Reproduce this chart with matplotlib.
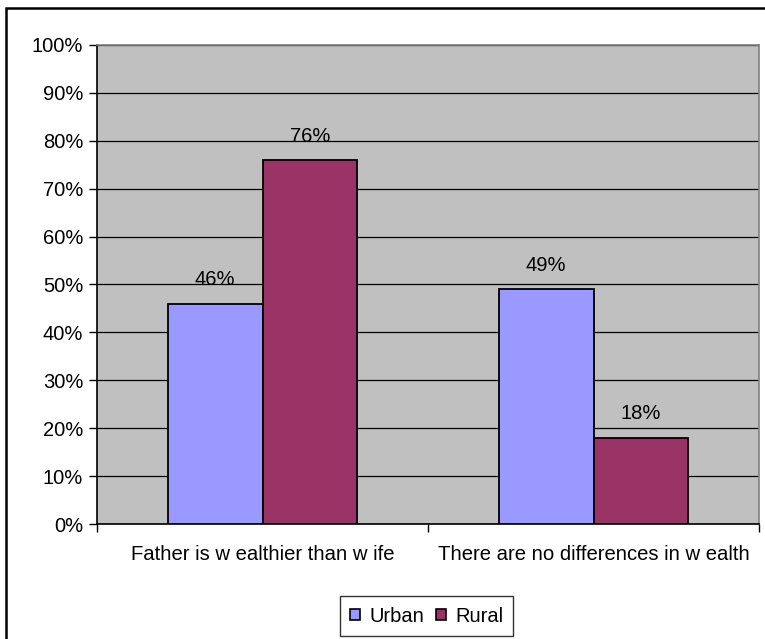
import matplotlib
matplotlib.use("Agg")
import matplotlib.pyplot as plt
from matplotlib.patches import Rectangle, Patch
from matplotlib.ticker import FixedLocator

categories = ["Father is w ealthier than w ife", "There are no differences in w ealth"]
series_names = ["Urban", "Rural"]
urban = [46, 49]
rural = [76, 18]
y_ticks = [0, 10, 20, 30, 40, 50, 60, 70, 80, 90, 100]
y_tick_labels = [f"{v}%" for v in y_ticks]

colors = {"Urban": "#9999FF", "Rural": "#993366"}
font = "Liberation Sans"

fig = plt.figure(figsize=(7.65, 6.39), dpi=100)
fig.patch.set_facecolor("white")

# outer chart frame (runs past the right and bottom edges)
top_px = 8
fig.add_artist(Rectangle((6 / 765, -0.1), 1.2, 0.1 + (639 - top_px) / 639,
                         transform=fig.transFigure, fill=False, edgecolor="black", linewidth=1.8))

ax = fig.add_axes([97 / 765, 115 / 639, 662 / 765, 479 / 639])
ax.set_facecolor("#C0C0C0")

bar_w = 0.287
x = list(range(len(categories)))
xu = [i - bar_w / 2 for i in x]
xr = [i + bar_w / 2 for i in x]
ax.bar(xu, urban, width=bar_w, color=colors["Urban"], edgecolor="black", linewidth=1.3, zorder=3)
ax.bar(xr, rural, width=bar_w, color=colors["Rural"], edgecolor="black", linewidth=1.3, zorder=3)

for xi, v in zip(xu, urban):
    ax.text(xi, v + 3.0, f"{v}%", ha="center", va="bottom", fontsize=14.5, family=font, zorder=4)
for xi, v in zip(xr, rural):
    ax.text(xi, v + 3.0, f"{v}%", ha="center", va="bottom", fontsize=14.5, family=font, zorder=4)

ax.set_xlim(-0.5, 1.5)
ax.set_ylim(0, 100)
ax.yaxis.set_major_locator(FixedLocator(y_ticks))
ax.set_yticklabels(y_tick_labels, family=font, fontsize=14.5)
ax.grid(axis="y", color="black", linewidth=0.9, zorder=1)
ax.set_axisbelow(True)

# category boundary ticks on the x axis, labels centred in each category
ax.xaxis.set_major_locator(FixedLocator([-0.5, 0.5, 1.5]))
ax.set_xticklabels(["", "", ""])
ax.xaxis.set_minor_locator(FixedLocator(x))
ax.set_xticklabels(categories, minor=True, family=font, fontsize=14.6)
ax.tick_params(axis="x", which="minor", length=0, pad=15)
ax.tick_params(axis="x", which="major", direction="out", length=6, width=1, color="black")
ax.tick_params(axis="y", direction="out", length=6, width=1, color="black", pad=4)

for s in ["top", "right"]:
    ax.spines[s].set_color("#808080")
    ax.spines[s].set_linewidth(1.2)
for s in ["left", "bottom"]:
    ax.spines[s].set_color("black")
    ax.spines[s].set_linewidth(1.2)

handles = [Patch(facecolor=colors[n], edgecolor="black", linewidth=1.2) for n in series_names]
leg = fig.legend(handles, series_names, loc="center", bbox_to_anchor=(426.5 / 765, 1 - 616 / 639),
                 ncol=2, frameon=True, fancybox=False, edgecolor="black",
                 prop={"family": font, "size": 14.5}, handlelength=0.5, handleheight=0.5,
                 handletextpad=0.45, columnspacing=0.6, borderpad=0.5, borderaxespad=0)
leg.get_frame().set_linewidth(1.0)

fig.savefig("out.png", dpi=100)
